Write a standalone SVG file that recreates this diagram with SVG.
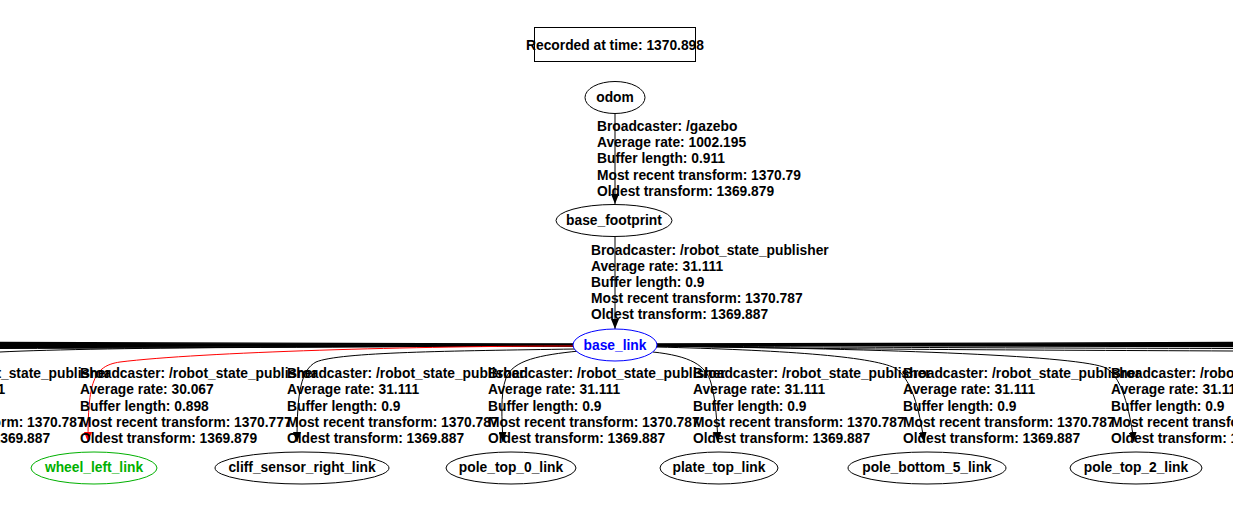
<svg xmlns="http://www.w3.org/2000/svg" width="1233" height="525" viewBox="0 0 1233 525">
<style>
text{font-family:"Liberation Sans",Arial,sans-serif;font-weight:bold;font-size:13.8px;fill:#000}
.c{text-anchor:middle}
.node{fill:none;stroke:#000;stroke-width:1}
.e{fill:none;stroke:#000;stroke-width:1}
.b{fill:none;stroke:#000;stroke-width:1.3}
.r{fill:none;stroke:#ff0000;stroke-width:1}
</style>
<defs>
<marker id="arr" viewBox="0 0 10 8" refX="10" refY="4" markerWidth="10" markerHeight="8" markerUnits="userSpaceOnUse" orient="auto"><path d="M0,0 L10,4 L0,8 Z" fill="#000"/></marker>
<marker id="arrR" viewBox="0 0 10 8" refX="10" refY="4" markerWidth="10" markerHeight="8" markerUnits="userSpaceOnUse" orient="auto"><path d="M0,0 L10,4 L0,8 Z" fill="#ff0000"/></marker>
</defs>
<rect width="1233" height="525" fill="#fff"/>

<g id="title">
<rect x="534.5" y="27.5" width="161" height="34" fill="none" stroke="#000"/>
<text x="615" y="50" class="c">Recorded at time: 1370.898</text>
</g>

<g id="connectors">
<path class="e" d="M615,114 L615,204" marker-end="url(#arr)"/>
<path class="e" d="M615,237 L615,329" marker-end="url(#arr)"/>
<path class="b" d="M573,344 C400,343 200,342.5 0,342.5"/>
<path class="b" d="M573,344.5 C400,344 200,343.5 0,343.5"/>
<path class="b" d="M573,345 C400,345 200,344.5 0,344.5"/>
<path class="b" d="M573,345 C400,345 200,345.5 0,345.5"/>
<path class="b" d="M573,345.5 C400,346 200,346.5 0,346.5"/>
<path class="b" d="M573,346 C400,346 200,347 0,347.5"/>
<path class="e" d="M573,346 C400,346.5 200,348 0,348.5"/>
<path class="e" d="M573,346 C400,346 100,347 0,352"/>
<path class="b" d="M657,344 C800,343 1000,342.5 1233,342.5"/>
<path class="b" d="M657,344.5 C800,344 1000,343.5 1233,343.5"/>
<path class="b" d="M657,345 C800,345 1000,344.5 1233,344.5"/>
<path class="b" d="M657,345 C800,345 1000,345.5 1233,345.5"/>
<path class="b" d="M657,345.5 C800,346 1000,346.5 1233,346.5"/>
<path class="e" d="M657,346 C800,347 1000,348 1233,348.5"/>
<path class="e" d="M657,346 C800,349 1000,350 1233,351"/>
<path class="r" d="M573,346 C420,346 200,352 120,362 C93,366 88,382 88,442" marker-end="url(#arrR)"/>
<path class="e" d="M575,349 C450,351 340,352 316,362 C301,370 297,392 297,442" marker-end="url(#arr)"/>
<path class="e" d="M579,351 C540,355 513,360 506,378 C500,394 502,420 503,442" marker-end="url(#arr)"/>
<path class="e" d="M653,352 C690,356 706,365 711,383 C716,400 717,425 718,442" marker-end="url(#arr)"/>
<path class="e" d="M656,347 C780,350 870,356 895,368 C914,380 921,420 924,442" marker-end="url(#arr)"/>
<path class="e" d="M656,346 C900,349 1080,356 1106,368 C1124,378 1131,420 1134,442" marker-end="url(#arr)"/>
</g>

<g id="edge-labels">
<text x="597" y="131">Broadcaster: /gazebo</text>
<text x="597" y="147">Average rate: 1002.195</text>
<text x="597" y="163">Buffer length: 0.911</text>
<text x="597" y="180">Most recent transform: 1370.79</text>
<text x="597" y="196">Oldest transform: 1369.879</text>

<text x="591" y="255">Broadcaster: /robot_state_publisher</text>
<text x="591" y="271">Average rate: 31.111</text>
<text x="591" y="287">Buffer length: 0.9</text>
<text x="591" y="303">Most recent transform: 1370.787</text>
<text x="591" y="319">Oldest transform: 1369.887</text>

<text x="-127" y="378">Broadcaster: /robot_state_publisher</text>
<text x="-127" y="394">Average rate: 31.111</text>
<text x="-127" y="411">Buffer length: 0.9</text>
<text x="-127" y="427">Most recent transform: 1370.787</text>
<text x="-127" y="443">Oldest transform: 1369.887</text>

<text x="80" y="378">Broadcaster: /robot_state_publisher</text>
<text x="80" y="394">Average rate: 30.067</text>
<text x="80" y="411">Buffer length: 0.898</text>
<text x="80" y="427">Most recent transform: 1370.777</text>
<text x="80" y="443">Oldest transform: 1369.879</text>

<text x="287" y="378">Broadcaster: /robot_state_publisher</text>
<text x="287" y="394">Average rate: 31.111</text>
<text x="287" y="411">Buffer length: 0.9</text>
<text x="287" y="427">Most recent transform: 1370.787</text>
<text x="287" y="443">Oldest transform: 1369.887</text>

<text x="488" y="378">Broadcaster: /robot_state_publisher</text>
<text x="488" y="394">Average rate: 31.111</text>
<text x="488" y="411">Buffer length: 0.9</text>
<text x="488" y="427">Most recent transform: 1370.787</text>
<text x="488" y="443">Oldest transform: 1369.887</text>

<text x="693" y="378">Broadcaster: /robot_state_publisher</text>
<text x="693" y="394">Average rate: 31.111</text>
<text x="693" y="411">Buffer length: 0.9</text>
<text x="693" y="427">Most recent transform: 1370.787</text>
<text x="693" y="443">Oldest transform: 1369.887</text>

<text x="903" y="378">Broadcaster: /robot_state_publisher</text>
<text x="903" y="394">Average rate: 31.111</text>
<text x="903" y="411">Buffer length: 0.9</text>
<text x="903" y="427">Most recent transform: 1370.787</text>
<text x="903" y="443">Oldest transform: 1369.887</text>

<text x="1111" y="378">Broadcaster: /robot_state_publisher</text>
<text x="1111" y="394">Average rate: 31.111</text>
<text x="1111" y="411">Buffer length: 0.9</text>
<text x="1111" y="427">Most recent transform: 1370.787</text>
<text x="1111" y="443">Oldest transform: 1369.887</text>
</g>

<g id="odom"><ellipse class="node" cx="615" cy="97.5" rx="30" ry="16"/><text x="615" y="102" class="c">odom</text></g>
<g id="base_footprint"><ellipse class="node" cx="614" cy="220.5" rx="58" ry="16"/><text x="614" y="225" class="c">base_footprint</text></g>
<g id="base_link"><ellipse class="node" cx="615" cy="345" rx="42" ry="16" style="stroke:#0000ff;fill:#fff"/><text x="615" y="350" class="c" style="fill:#0000ff">base_link</text></g>
<g id="wheel_left_link"><ellipse class="node" cx="94" cy="468" rx="63" ry="16" style="stroke:#00b000"/><text x="94" y="472" class="c" style="fill:#00b000">wheel_left_link</text></g>
<g id="cliff_sensor_right_link"><ellipse class="node" cx="302" cy="468" rx="87" ry="16"/><text x="302" y="472" class="c">cliff_sensor_right_link</text></g>
<g id="pole_top_0_link"><ellipse class="node" cx="511" cy="468" rx="65" ry="16"/><text x="511" y="472" class="c">pole_top_0_link</text></g>
<g id="plate_top_link"><ellipse class="node" cx="719" cy="468" rx="59" ry="16"/><text x="719" y="472" class="c">plate_top_link</text></g>
<g id="pole_bottom_5_link"><ellipse class="node" cx="927" cy="468" rx="79" ry="16"/><text x="927" y="472" class="c">pole_bottom_5_link</text></g>
<g id="pole_top_2_link"><ellipse class="node" cx="1136" cy="468" rx="66" ry="16"/><text x="1136" y="472" class="c">pole_top_2_link</text></g>
</svg>
